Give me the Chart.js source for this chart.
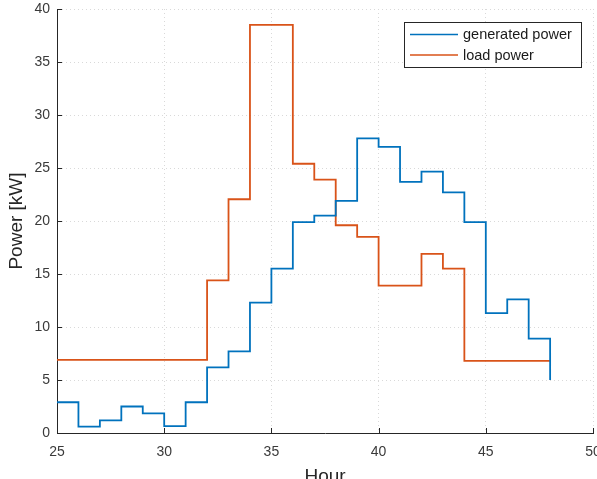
<!DOCTYPE html>
<html>
<head>
<meta charset="utf-8">
<script src="https://cdn.jsdelivr.net/npm/chart.js@4/dist/chart.umd.min.js"></script>
<style>
html,body{margin:0;padding:0;background:#fff;overflow:hidden;}
#wrap{width:597px;height:479px;position:relative;}
</style>
</head>
<body>
<div id="wrap"><canvas id="c" width="597" height="479"></canvas></div>
<script>
// ---- data ----
const hours = [25,26,27,28,29,30,31,32,33,34,35,36,37,38,39,40,41,42,43,44,45,46,47,48];
const generatedPower = [2.9,0.6,1.2,2.5,1.85,0.65,2.9,6.2,7.7,12.3,15.5,19.9,20.5,21.9,27.8,27.0,23.7,24.65,22.7,19.9,11.3,12.6,8.9,5.0];
const loadPower = [6.9,6.9,6.9,6.9,6.9,6.9,6.9,14.4,22.05,38.5,38.5,25.4,23.9,19.6,18.5,13.9,13.9,16.9,15.5,6.8,6.8,6.8,6.8,6.8];
const seriesLabels = ['generated power','load power'];
const xTicks = [25,30,35,40,45,50];
const yTicks = [0,5,10,15,20,25,30,35,40];

const FONT = '"Liberation Sans", Arial, Helvetica, sans-serif';
const AXIS = '#262626';

function toPts(xs, ys){ return xs.map((x,i)=>({x:x,y:ys[i]})); }

const innerTicks = {
  id:'innerTicks',
  afterDatasetsDraw(chart){
    const ctx = chart.ctx, xs = chart.scales.x, ys = chart.scales.y;
    ctx.save();
    ctx.strokeStyle = AXIS; ctx.lineWidth = 1;
    ctx.beginPath();
    xs.ticks.forEach(t=>{ const p = Math.round(xs.getPixelForValue(t.value))+0.5; ctx.moveTo(p, ys.bottom); ctx.lineTo(p, ys.bottom-5); });
    ys.ticks.forEach(t=>{ const p = Math.round(ys.getPixelForValue(t.value))+0.5; ctx.moveTo(xs.left, p); ctx.lineTo(xs.left+5, p); });
    ctx.stroke();
    ctx.restore();
  }
};

const boxLegend = {
  id:'boxLegend',
  afterDraw(chart){
    const ctx = chart.ctx, ca = chart.chartArea;
    const x = ca.right - 189, y = ca.top + 13, w = 177, h = 45;
    ctx.save();
    ctx.fillStyle = '#fff';
    ctx.fillRect(x, y, w, h);
    ctx.strokeStyle = AXIS; ctx.lineWidth = 1;
    ctx.strokeRect(x+0.5, y+0.5, w, h);
    ctx.font = '14.5px ' + FONT;
    ctx.textBaseline = 'middle';
    ctx.fillStyle = '#1a1a1a';
    chart.data.datasets.forEach((ds,i)=>{
      const ly = y + 12.5 + i*20.5;
      ctx.strokeStyle = ds.borderColor; ctx.lineWidth = 1.5;
      ctx.beginPath(); ctx.moveTo(x+6, ly); ctx.lineTo(x+54, ly); ctx.stroke();
      ctx.fillText(ds.label, x+59, ly+0.5);
    });
    ctx.restore();
  }
};

new Chart(document.getElementById('c'), {
  type:'line',
  data:{
    datasets:[
      {label:seriesLabels[0], data:toPts(hours, generatedPower), borderColor:'#0072BD', borderWidth:1.8, pointRadius:0, stepped:'before', fill:false, tension:0},
      {label:seriesLabels[1], data:toPts(hours, loadPower), borderColor:'#D95319', borderWidth:1.8, pointRadius:0, stepped:'before', fill:false, tension:0}
    ]
  },
  options:{
    responsive:false, animation:false, devicePixelRatio:1,
    layout:{padding:{left:0,right:4,top:9,bottom:0}},
    plugins:{legend:{display:false}, tooltip:{enabled:false}},
    scales:{
      x:{
        type:'linear', min:25, max:50,
        afterBuildTicks(s){ s.ticks = xTicks.map(v=>({value:v})); },
        afterFit(s){ s.height = 46; s.paddingLeft = 0; s.paddingRight = 0; },
        ticks:{ padding:11, font:{family:FONT, size:14}, color:'#3a3a3a', maxRotation:0 },
        grid:{ color:'#d9d9d9', lineWidth:1, drawTicks:false },
        border:{ display:true, color:AXIS, width:1, dash:[1,3] },
        title:{ display:true, text:'Hour', font:{family:FONT, size:19, lineHeight:0.25}, color:AXIS, padding:{top:0,bottom:0} }
      },
      y:{
        type:'linear', min:0, max:40,
        afterBuildTicks(s){ s.ticks = yTicks.map(v=>({value:v})); },
        afterFit(s){ s.width = 57; s.paddingTop = 0; s.paddingBottom = 0; },
        ticks:{ padding:7, font:{family:FONT, size:14}, color:'#3a3a3a' },
        grid:{ color:'#d9d9d9', lineWidth:1, drawTicks:false },
        border:{ display:true, color:AXIS, width:1, dash:[1,3] },
        title:{ display:true, text:'Power [kW]', font:{family:FONT, size:19, lineHeight:1.2}, color:AXIS, padding:{top:5,bottom:0} }
      }
    }
  },
  plugins:[innerTicks, boxLegend]
});
</script>
</body>
</html>
